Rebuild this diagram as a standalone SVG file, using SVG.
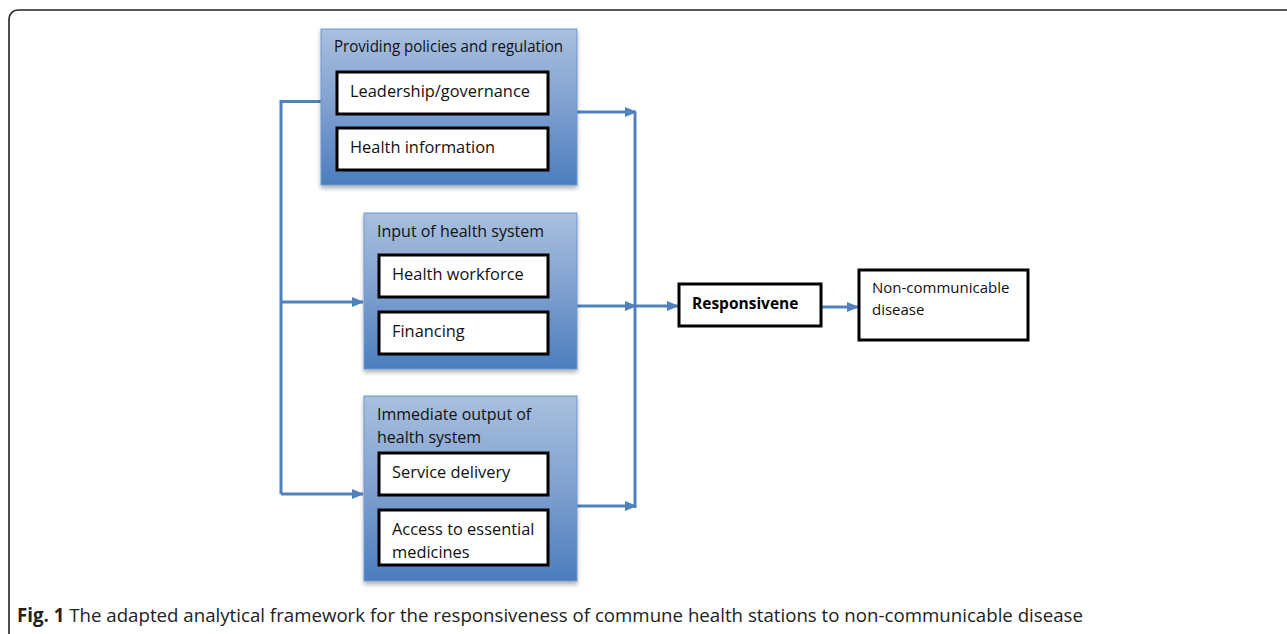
<svg xmlns="http://www.w3.org/2000/svg" width="1287" height="634" viewBox="0 0 1287 634">
<defs>
<linearGradient id="g" x1="0" y1="0" x2="0" y2="1">
<stop offset="0" stop-color="#a9c0de"/>
<stop offset="0.5" stop-color="#7fa0d0"/>
<stop offset="1" stop-color="#4b7dbd"/>
</linearGradient>
<filter id="sh" x="-10%" y="-10%" width="120%" height="130%">
<feDropShadow dx="0" dy="3" stdDeviation="2" flood-color="#000" flood-opacity="0.3"/>
</filter>
<marker id="ar" markerWidth="12" markerHeight="12" refX="11" refY="6" orient="auto" markerUnits="userSpaceOnUse">
<path d="M0,1 L12,6 L0,11 Z" fill="#4f81bd"/>
</marker>
</defs>
<style>
.grp{fill:url(#g);stroke:#6d98cf;stroke-width:1;filter:url(#sh)}
.inner{fill:#fff;stroke:#000;stroke-width:3}
.t{font-family:"Open Sans","Liberation Sans",sans-serif;font-size:16px;fill:#111}
.ti{font-family:"Open Sans","Liberation Sans",sans-serif;font-size:16.4px;fill:#111}
.tn{font-family:"Open Sans","Liberation Sans",sans-serif;font-size:15px;fill:#111}
.tb{font-family:"Open Sans","Liberation Sans",sans-serif;font-size:15.5px;font-weight:bold;fill:#000}
.c{fill:none;stroke:#4f81bd;stroke-width:3}
.cap{font-family:"Open Sans","Liberation Sans",sans-serif;font-size:19px;fill:#222}
</style>
<rect x="0" y="0" width="1287" height="634" fill="#fff"/>
<rect x="9" y="10" width="1300" height="660" rx="9" fill="none" stroke="#222" stroke-width="1.6"/>

<g id="connectors">
<polyline class="c" points="321,101.5 281,101.5 281,494"/>
<line class="c" x1="281" y1="302" x2="363" y2="302" marker-end="url(#ar)"/>
<line class="c" x1="281" y1="494" x2="363" y2="494" marker-end="url(#ar)"/>
<line class="c" x1="577" y1="112" x2="636" y2="112" marker-end="url(#ar)"/>
<line class="c" x1="635" y1="112" x2="635" y2="508"/>
<line class="c" x1="577" y1="306" x2="636" y2="306" marker-end="url(#ar)"/>
<line class="c" x1="577" y1="506" x2="636" y2="506" marker-end="url(#ar)"/>
<line class="c" x1="635" y1="306" x2="678" y2="306" marker-end="url(#ar)"/>
<line class="c" x1="822" y1="307" x2="858" y2="307" marker-end="url(#ar)"/>
</g>

<g id="providing">
<rect class="grp" x="321" y="29" width="256" height="156"/>
<text class="t" x="334" y="52" textLength="229" lengthAdjust="spacingAndGlyphs">Providing policies and regulation</text>
</g>
<g id="leadership">
<rect class="inner" x="337" y="72" width="211" height="42"/>
<text class="ti" x="350" y="97">Leadership/governance</text>
</g>
<g id="healthinfo">
<rect class="inner" x="337" y="128" width="211" height="42"/>
<text class="ti" x="350" y="153">Health information</text>
</g>

<g id="input">
<rect class="grp" x="364" y="213" width="213" height="156"/>
<text class="t" x="377" y="237">Input of health system</text>
</g>
<g id="workforce">
<rect class="inner" x="379" y="255" width="169" height="42"/>
<text class="ti" x="392" y="280">Health workforce</text>
</g>
<g id="financing">
<rect class="inner" x="379" y="312" width="169" height="42"/>
<text class="ti" x="392" y="337">Financing</text>
</g>

<g id="output">
<rect class="grp" x="364" y="396" width="213" height="185"/>
<text class="t" x="377" y="420">Immediate output of</text>
<text class="t" x="377" y="443">health system</text>
</g>
<g id="service">
<rect class="inner" x="379" y="453" width="169" height="42"/>
<text class="ti" x="392" y="478">Service delivery</text>
</g>
<g id="access">
<rect class="inner" x="379" y="510" width="169" height="55"/>
<text class="ti" x="392" y="535">Access to essential</text>
<text class="ti" x="392" y="558">medicines</text>
</g>

<g id="responsivene">
<rect class="inner" x="679" y="284" width="142" height="42"/>
<text class="tb" x="692" y="309">Responsivene</text>
</g>
<g id="ncd">
<rect class="inner" x="859" y="270" width="169" height="70"/>
<text class="tn" x="872" y="293">Non-communicable</text>
<text class="tn" x="872" y="315">disease</text>
</g>

<text class="cap" x="17" y="622" textLength="1066" lengthAdjust="spacingAndGlyphs"><tspan font-weight="bold">Fig. 1</tspan> The adapted analytical framework for the responsiveness of commune health stations to non-communicable disease</text>
</svg>
